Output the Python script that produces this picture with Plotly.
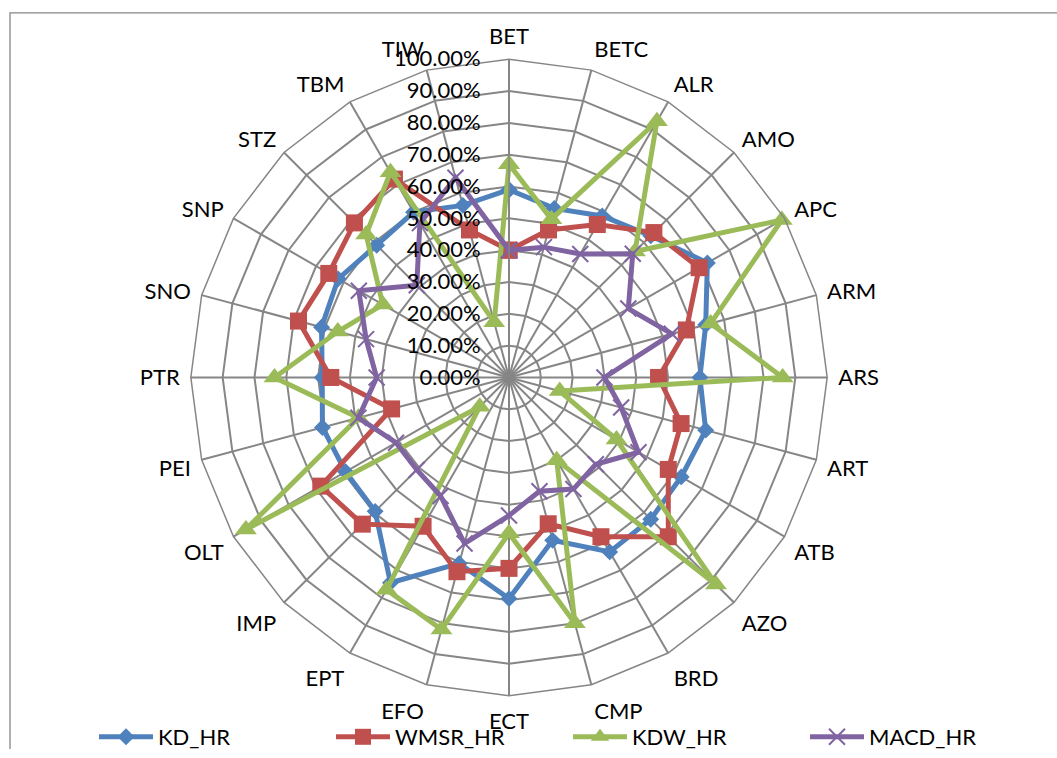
import plotly.graph_objects as go

categories = ["BET", "BETC", "ALR", "AMO", "APC", "ARM", "ARS", "ART", "ATB", "AZO",
              "BRD", "CMP", "ECT", "EFO", "EPT", "IMP", "OLT", "PEI", "PTR", "SNO",
              "SNP", "STZ", "TBM", "TIW"]

kd_hr = [0.59, 0.55, 0.586, 0.63, 0.72, 0.64, 0.60, 0.64, 0.625, 0.63,
         0.633, 0.53, 0.695, 0.605, 0.745, 0.595, 0.593, 0.607, 0.587, 0.61,
         0.62, 0.588, 0.60, 0.56]
wmsr_hr = [0.40, 0.48, 0.555, 0.644, 0.69, 0.577, 0.47, 0.56, 0.578, 0.708,
           0.578, 0.476, 0.60, 0.632, 0.54, 0.652, 0.683, 0.382, 0.56, 0.685,
           0.654, 0.687, 0.72, 0.48]
kdw_hr = [0.67, 0.515, 0.93, 0.56, 0.99, 0.656, 0.86, 0.165, 0.39, 0.92,
          0.30, 0.80, 0.49, 0.82, 0.77, 0.13, 0.955, 0.49, 0.737, 0.557,
          0.458, 0.635, 0.745, 0.18]
macd_hr = [0.40, 0.424, 0.448, 0.55, 0.433, 0.53, 0.30, 0.365, 0.47, 0.386,
           0.405, 0.37, 0.434, 0.54, 0.43, 0.41, 0.41, 0.49, 0.416, 0.465,
           0.545, 0.41, 0.56, 0.65]

radial_ticks = [0, 0.1, 0.2, 0.3, 0.4, 0.5, 0.6, 0.7, 0.8, 0.9, 1.0]

series = [
    ("KD_HR", kd_hr, "#4F81BD", "diamond", 13, 0),
    ("WMSR_HR", wmsr_hr, "#C0504D", "square", 17, 0),
    ("KDW_HR", kdw_hr, "#9BBB59", "triangle-up", 19, 0),
    ("MACD_HR", macd_hr, "#8064A2", "x-thin-open", 16, 2),
]

FONT = "Lato, Carlito, Calibri, sans-serif"
GRID = "#868686"

fig = go.Figure()
for name, vals, color, sym, size, mlw in series:
    fig.add_trace(go.Scatterpolar(
        r=vals + vals[:1],
        theta=categories + categories[:1],
        name=name,
        mode="lines+markers",
        line=dict(color=color, width=5),
        marker=dict(symbol=sym, size=size, color=color,
                    line=dict(color=color, width=mlw)),
    ))

W, H = 1057, 758
cx, cy, R = 509, 382, 322

fig.update_layout(
    width=W, height=H,
    margin=dict(l=0, r=0, t=0, b=0),
    paper_bgcolor="white",
    font=dict(family=FONT, size=22, color="black"),
    polar=dict(
        domain=dict(x=[(cx - R) / W, (cx + R) / W], y=[1 - (cy + R) / H, 1 - (cy - R) / H]),
        bgcolor="white",
        gridshape="linear",
        angularaxis=dict(
            rotation=90, direction="clockwise",
            showline=True, linecolor=GRID, linewidth=1.5,
            gridcolor=GRID, gridwidth=1.5,
            ticks="outside", ticklen=6, tickcolor="rgba(0,0,0,0)",
            tickfont=dict(family=FONT, size=22, color="black"),
        ),
        radialaxis=dict(
            range=[0, 1], angle=90, tickangle=90,
            tickvals=radial_ticks, tickformat=".2%",
            showline=True, linecolor=GRID, linewidth=1.5,
            gridcolor=GRID, gridwidth=1.5,
            ticks="outside", ticklen=20, tickcolor="rgba(0,0,0,0)",
            side="counterclockwise",
            tickfont=dict(family=FONT, size=22, color="black"),
        ),
    ),
    legend=dict(
        orientation="h", x=94 / W, xanchor="left",
        y=1 - 746 / H, yanchor="middle",
        font=dict(family=FONT, size=22, color="black"),
        itemwidth=54, entrywidth=168, entrywidthmode="pixels",
        bgcolor="rgba(0,0,0,0)",
    ),
    showlegend=True,
    shapes=[dict(type="path", xref="paper", yref="paper",
                 path=f"M {10 / W},0 L {10 / W},{1 - 13 / H} L 1.01,{1 - 13 / H}",
                 line=dict(color=GRID, width=1.3))],
)

fig.write_html("out.html", config={"displayModeBar": False},
               post_script="document.body.style.margin='0';")
